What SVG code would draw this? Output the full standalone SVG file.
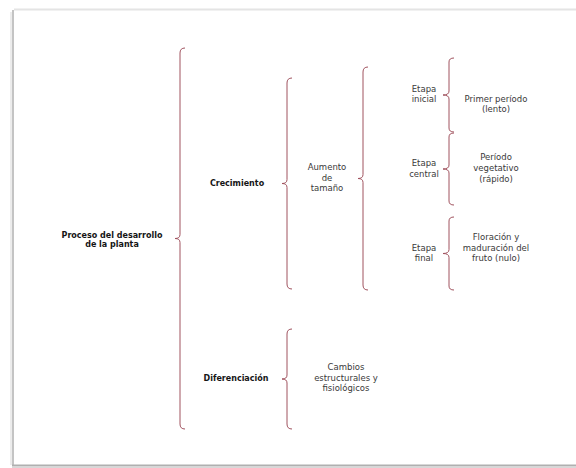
<svg xmlns="http://www.w3.org/2000/svg" width="576" height="468" viewBox="0 0 576 468">
<style>
.brace{fill:none;stroke:#a0525e;stroke-width:1}
text{font-family:"DejaVu Sans","Liberation Sans",sans-serif;text-anchor:middle;fill:#3a3a3a;font-size:8.5px}
.b{font-weight:bold;fill:#151515;font-size:8px}
</style>
<rect width="576" height="468" fill="#ffffff"/>
<g id="page">
<rect x="14" y="10" width="570" height="455" fill="#ffffff"/>
<line x1="14" y1="9.5" x2="576" y2="9.5" stroke="#e4e4e4" stroke-width="2"/>
<line x1="13" y1="10" x2="13" y2="465" stroke="#c4c4c4" stroke-width="2"/>
<line x1="11" y1="12" x2="11" y2="465" stroke="#ececec" stroke-width="2"/>
<line x1="12" y1="465.5" x2="576" y2="465.5" stroke="#b0b0b0" stroke-width="2"/>
<line x1="12" y1="467.3" x2="576" y2="467.3" stroke="#d8d8d8" stroke-width="1.5"/>
</g>
<g id="connectors">
<path class="brace" d="M185 48 Q180 48 180 53 V234.5 Q180 238.5 175 238.5 Q180 238.5 180 242.5 V424 Q180 429 185 429"/>
<path class="brace" d="M292 78 Q287 78 287 83 V179.5 Q287 183.5 282 183.5 Q287 183.5 287 187.5 V284 Q287 289 292 289"/>
<path class="brace" d="M292 329 Q287 329 287 334 V375 Q287 379 282 379 Q287 379 287 383 V424 Q287 429 292 429"/>
<path class="brace" d="M368 67 Q363 67 363 72 V174.5 Q363 178.5 358 178.5 Q363 178.5 363 182.5 V285 Q363 290 368 290"/>
<path class="brace" d="M454 58 Q449 58 449 62 V91 Q449 95 443 95 Q449 95 449 99 V128 Q449 132 454 132"/>
<path class="brace" d="M454 133 Q449 133 449 137 V165 Q449 169 443 169 Q449 169 449 173 V201 Q449 205 454 205"/>
<path class="brace" d="M454 217 Q449 217 449 221 V249.5 Q449 253.5 443 253.5 Q449 253.5 449 257.5 V286 Q449 290 454 290"/>
</g>
<g id="proceso"><text class="b" x="112" y="237.5">Proceso del desarrollo</text><text class="b" x="112" y="246.5">de la planta</text></g>
<g id="crecimiento"><text class="b" x="237" y="186">Crecimiento</text></g>
<g id="diferenciacion"><text class="b" x="236" y="381">Diferenciación</text></g>
<g id="aumento"><text x="327" y="170">Aumento</text><text x="327" y="180.5">de</text><text x="327" y="191">tamaño</text></g>
<g id="etapa-inicial"><text x="424" y="92">Etapa</text><text x="424" y="102">inicial</text></g>
<g id="primer-periodo"><text x="496" y="102">Primer período</text><text x="496" y="112">(lento)</text></g>
<g id="etapa-central"><text x="424" y="166">Etapa</text><text x="424" y="177">central</text></g>
<g id="periodo-vegetativo"><text x="496" y="160">Período</text><text x="496" y="171">vegetativo</text><text x="496" y="182">(rápido)</text></g>
<g id="etapa-final"><text x="424" y="251">Etapa</text><text x="424" y="261">final</text></g>
<g id="floracion"><text x="496" y="240">Floración y</text><text x="496" y="251">maduración del</text><text x="496" y="261">fruto (nulo)</text></g>
<g id="cambios"><text x="346" y="370">Cambios</text><text x="346" y="381">estructurales y</text><text x="346" y="391">fisiológicos</text></g>
</svg>
